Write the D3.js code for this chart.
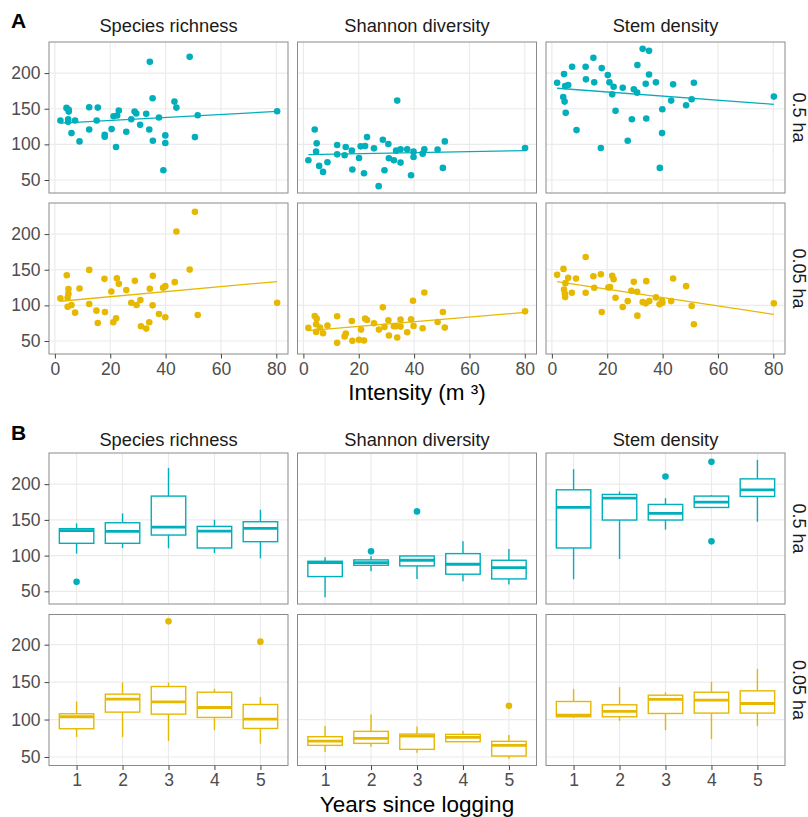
<!DOCTYPE html>
<html>
<head>
<meta charset="utf-8">
<script src="https://cdn.jsdelivr.net/npm/d3@7"></script>
<style>
  body { margin: 0; background: #fff; }
  svg { font-family: "Liberation Sans", Arial, sans-serif; }
</style>
</head>
<body>
<svg id="chart" width="808" height="817"></svg>
<script>
const metrics = ["Species richness", "Shannon diversity", "Stem density"];
const plotSizes = ["0.5 ha", "0.05 ha"];
const years = [1, 2, 3, 4, 5];
const intensityTicks = [0, 20, 40, 60, 80];
const valueTicks = [50, 100, 150, 200];

// [intensity, value]
const richnessLarge = [[2.0,133.5],[4.2,151.2],[5.0,148.4],[5.0,146],[4.8,135.3],[4.8,131.6],[6.0,115.8],[7.3,133.5],[8.9,104.2],[12.4,152.1],[12.4,120.9],[15.1,133.5],[15.5,151.6],[18.0,113.5],[18.0,110.7],[20.5,121.4],[21.2,139.5],[22.1,96.3],[22.5,140.5],[23.1,147.4],[25.8,117.7],[27.6,135.3],[28.8,146],[29.4,143.3],[30.8,127.4],[33.0,142.8],[34.1,120.9],[34.3,215.8],[35.3,164.7],[35.4,105.1],[37.6,137.7],[39.2,63.7],[39.9,112.6],[39.9,101.9],[43.2,160],[43.9,151.6],[48.7,222.8],[50.6,110.2],[51.6,140.9],[80.3,146.5]];
const shannonLarge = [[1.8,77.7],[4.1,120.9],[4.8,101.4],[4.6,89.8],[5.7,69.8],[7.1,61.4],[8.7,74.9],[12.2,99.1],[12.2,86],[14.9,84.7],[15.3,96.3],[17.5,91.2],[17.7,64.7],[20.1,80.9],[20.7,97.2],[22.3,97.7],[21.9,59.5],[23.0,110.2],[25.5,94.4],[27.2,41.4],[28.7,106.5],[29.3,63.7],[30.7,100.5],[30.9,80.5],[32.7,77.7],[33.5,91.2],[33.9,161.4],[35.1,93],[35.1,74.4],[37.5,93],[38.9,56.7],[39.8,89.8],[39.8,82.3],[43.1,87],[43.7,93],[48.5,92.6],[50.4,67],[51.1,104.2],[80.1,94.9]];
const stemLarge = [[1.9,186.5],[4.4,198.6],[4.8,181.9],[5.9,183.3],[4.1,166.5],[4.6,160],[5.0,144.2],[7.3,208.8],[8.9,120],[12.2,208.8],[12.3,191.2],[15.0,221.4],[15.3,187],[17.7,94.9],[18.0,207],[20.2,197.2],[20.8,187],[22.3,180.9],[21.8,170.2],[23.0,147],[25.6,179.5],[27.4,105.1],[28.9,135.3],[29.6,177.2],[30.8,172.6],[30.9,211.2],[32.8,234],[33.9,185.1],[34.1,136.3],[35.1,231.2],[35.1,198.1],[37.6,187],[39.0,67],[39.8,115.8],[39.9,149.3],[43.1,161.4],[43.8,184.2],[48.5,154.9],[50.5,163.3],[51.3,186.5],[80.2,167]];
const richnessSmall = [[2.0,109.8],[4.3,142.3],[4.9,122.8],[4.9,116.3],[4.6,110.7],[4.6,98.1],[6.0,100.5],[7.3,89.8],[8.9,123.7],[12.4,149.8],[12.4,101.9],[15.0,92.6],[15.5,75.3],[17.9,137.2],[18.1,90.7],[20.4,119.5],[21.1,76.3],[22.1,81.9],[22.4,138.1],[23.1,130.2],[25.8,121.4],[27.6,103.7],[28.9,134.4],[29.5,100.5],[30.9,107.4],[31.1,70.7],[33.0,67.4],[34.1,76.3],[34.3,123.3],[35.3,100],[35.4,141.4],[37.6,87.9],[39.1,124.7],[39.9,127],[39.9,83.3],[43.3,132.6],[43.9,203.7],[48.7,150.2],[50.6,231.2],[51.6,86.5],[80.3,103.7]];
const shannonSmall = [[1.8,68.4],[4.1,85.1],[4.8,81.4],[4.6,73.5],[4.6,62.8],[6.0,68.8],[7.1,60.9],[8.7,71.6],[12.2,84.7],[12.2,47.4],[14.9,56.3],[15.3,60.5],[17.5,78.1],[17.7,50.2],[20.1,51.6],[20.8,66],[22.3,81.4],[23.0,79.5],[21.9,50.7],[25.5,74.9],[27.3,66],[28.7,97.2],[29.3,69.8],[30.7,79.1],[30.9,57.7],[32.7,70.7],[33.5,70.7],[33.9,54.9],[35.1,80],[35.1,70.2],[37.5,62.3],[38.9,80.5],[39.6,106.5],[39.8,71.2],[43.7,118.1],[43.1,67.9],[48.5,76.7],[50.4,90.7],[51.1,68.8],[80.1,91.6]];
const stemSmall = [[1.9,142.8],[4.2,151.2],[4.4,122.3],[4.9,131.2],[4.7,116.3],[4.8,111.6],[5.9,138.6],[7.2,117.7],[8.7,137.7],[12.2,167.9],[12.2,117.7],[15.0,140.9],[15.3,124.7],[17.7,143.7],[18.0,90.7],[20.4,125.1],[21.0,125.6],[21.8,141.4],[22.3,136.7],[23.0,110.7],[25.6,97.7],[27.4,106],[28.7,120.5],[29.6,133],[30.8,119.1],[30.9,85.6],[32.8,104.7],[33.9,102.8],[34.1,134],[35.2,106],[37.6,111.2],[38.9,101.4],[39.8,106.5],[39.9,103.7],[43.1,106],[43.8,137.7],[48.5,127],[50.5,99.1],[51.3,73.5],[80.2,102.8]];

// per year: [lower whisker, q1, median, q3, upper whisker, outliers]
const boxRichnessLarge = [[102.8,117.2,134.9,137.7,145.1,[63.3]],[110.7,117.2,134.0,146.0,159.1,[]],[110.2,128.8,140.0,183.3,222.8,[]],[103.7,110.7,134.4,140.9,150.2,[]],[96.3,119.5,138.1,147.4,164.2,[]]];
const boxShannonLarge = [[41.9,70.7,90.2,92.1,97.7,[]],[78.1,86.5,90.2,94.0,99.1,[106.0]],[67.4,85.6,93.5,99.5,100.5,[161.9]],[64.2,74.0,87.9,102.8,120.0,[]],[59.5,67.4,83.3,93.5,109.3,[]]];
const boxStemLarge = [[67.0,110.7,167.4,192.1,220.9,[]],[95.3,149.8,180.5,185.6,189.8,[]],[136.3,149.8,159.1,171.6,180.5,[210.7]],[167.4,167.4,174.9,183.3,184.7,[231.2,120.0]],[147.4,182.8,192.1,207.4,234.0,[]]];
const boxRichnessSmall = [[76.6,87.7,103.7,107.7,124.1,[]],[76.6,109.9,127.2,133.9,149.4,[]],[71.3,107.2,123.7,144.1,149.4,[231.1]],[85.9,102.8,116.1,136.5,141.0,[]],[67.7,88.1,100.6,120.1,129.9,[204.0]]];
const boxShannonSmall = [[56.6,65.5,71.3,77.1,91.3,[]],[63.7,68.2,74.8,84.2,106.8,[]],[55.7,60.2,77.9,80.6,90.8,[]],[70.4,70.4,76.2,80.2,84.6,[]],[47.8,51.3,65.5,70.9,79.3,[118.3]]];
const boxStemSmall = [[102.4,103.7,105.9,124.1,141.0,[]],[98.4,103.7,110.8,119.7,143.2,[]],[85.9,108.1,126.8,132.5,136.5,[]],[74.0,108.6,125.9,136.5,150.3,[]],[91.3,108.6,121.4,138.3,167.6,[]]];

const rowColors = ["#00AFBB", "#E7B800"];
const scatterRows = [[richnessLarge, shannonLarge, stemLarge], [richnessSmall, shannonSmall, stemSmall]];
const boxRows = [[boxRichnessLarge, boxShannonLarge, boxStemLarge], [boxRichnessSmall, boxShannonSmall, boxStemSmall]];

const svg = d3.select("#chart");
const colX = [49, 297.5, 546];
const panelW = 239;
const panelH = 151;
const rowA = [42, 203];
const rowB = [453, 614.5];
const gridColor = "#ebebeb";

function expand(ext, f = 0.05) {
    const pad = (ext[1] - ext[0]) * f;
    return [ext[0] - pad, ext[1] + pad];
}

function drawGrid(g, xs, ys, xVals, x0, y0) {
    g.selectAll(".gx").data(xVals).join("line")
        .attr("x1", d => xs(d)).attr("x2", d => xs(d))
        .attr("y1", y0).attr("y2", y0 + panelH)
        .attr("stroke", gridColor).attr("stroke-width", 1.2);
    g.selectAll(".gy").data(valueTicks).join("line")
        .attr("x1", x0).attr("x2", x0 + panelW)
        .attr("y1", d => ys(d)).attr("y2", d => ys(d))
        .attr("stroke", gridColor).attr("stroke-width", 1.2);
}

function drawBorder(g, x0, y0) {
    g.append("rect").attr("x", x0).attr("y", y0)
        .attr("width", panelW).attr("height", panelH)
        .attr("fill", "none").attr("stroke", "#8a8a8a").attr("stroke-width", 1);
}

function styleAxis(a) {
    a.attr("font-size", 17.5).attr("font-family", null);
    a.select(".domain").remove();
    a.selectAll("line").attr("stroke", "#444");
    a.selectAll("text").attr("fill", "#4d4d4d");
}

function linFit(pts) {
    const mx = d3.mean(pts, d => d[0]), my = d3.mean(pts, d => d[1]);
    const b = d3.sum(pts, d => (d[0] - mx) * (d[1] - my)) / d3.sum(pts, d => (d[0] - mx) ** 2);
    return x => my + b * (x - mx);
}

// ---------- A: scatter ----------
const allA = scatterRows.flat(2);
const xDomA = expand(d3.extent(allA, d => d[0]));
const yDomA = expand(d3.extent(allA, d => d[1]));

scatterRows.forEach((row, r) => {
    const y0 = rowA[r];
    const ys = d3.scaleLinear().domain(yDomA).range([y0 + panelH, y0]);
    row.forEach((pts, c) => {
        const x0 = colX[c];
        const xs = d3.scaleLinear().domain(xDomA).range([x0, x0 + panelW]);
        const g = svg.append("g");
        drawGrid(g, xs, ys, intensityTicks, x0, y0);
        const fit = linFit(pts);
        const xe = d3.extent(pts, d => d[0]);
        g.append("line")
            .attr("x1", xs(xe[0])).attr("y1", ys(fit(xe[0])))
            .attr("x2", xs(xe[1])).attr("y2", ys(fit(xe[1])))
            .attr("stroke", rowColors[r]).attr("stroke-width", 1.3);
        g.selectAll("circle").data(pts).join("circle")
            .attr("cx", d => xs(d[0])).attr("cy", d => ys(d[1]))
            .attr("r", 3.3).attr("fill", rowColors[r]);
        drawBorder(g, x0, y0);
        if (c === 0) {
            svg.append("g").attr("transform", `translate(${x0},0)`)
                .call(d3.axisLeft(ys).tickValues(valueTicks).tickSize(4.5).tickPadding(4))
                .call(styleAxis);
        }
        if (r === 1) {
            svg.append("g").attr("transform", `translate(0,${y0 + panelH})`)
                .call(d3.axisBottom(xs).tickValues(intensityTicks).tickSize(4.5).tickPadding(4))
                .call(styleAxis);
        }
    });
});

// ---------- B: boxplots ----------
boxRows.forEach((row, r) => {
    const y0 = rowB[r];
    const vals = row.flat(1).flatMap(s => [s[0], s[4], ...s[5]]);
    const ys = d3.scaleLinear().domain(expand(d3.extent(vals))).range([y0 + panelH, y0]);
    row.forEach((stats, c) => {
        const x0 = colX[c];
        const xs = d3.scaleLinear().domain([0.4, 5.6]).range([x0, x0 + panelW]);
        const hw = xs(1.375) - xs(1);
        const col = rowColors[r];
        const g = svg.append("g");
        drawGrid(g, xs, ys, years, x0, y0);
        stats.forEach((s, i) => {
            const cx = xs(years[i]);
            g.append("line").attr("x1", cx).attr("x2", cx)
                .attr("y1", ys(s[3])).attr("y2", ys(s[4]))
                .attr("stroke", col).attr("stroke-width", 1.4);
            g.append("line").attr("x1", cx).attr("x2", cx)
                .attr("y1", ys(s[1])).attr("y2", ys(s[0]))
                .attr("stroke", col).attr("stroke-width", 1.4);
            g.append("rect").attr("x", cx - hw).attr("width", 2 * hw)
                .attr("y", ys(s[3])).attr("height", ys(s[1]) - ys(s[3]))
                .attr("fill", "#fff").attr("stroke", col).attr("stroke-width", 1.4);
            g.append("line").attr("x1", cx - hw).attr("x2", cx + hw)
                .attr("y1", ys(s[2])).attr("y2", ys(s[2]))
                .attr("stroke", col).attr("stroke-width", 2.8);
            g.selectAll(null).data(s[5]).join("circle")
                .attr("cx", cx).attr("cy", d => ys(d))
                .attr("r", 3.3).attr("fill", col);
        });
        drawBorder(g, x0, y0);
        if (c === 0) {
            svg.append("g").attr("transform", `translate(${x0},0)`)
                .call(d3.axisLeft(ys).tickValues(valueTicks).tickSize(4.5).tickPadding(4))
                .call(styleAxis);
        }
        if (r === 1) {
            svg.append("g").attr("transform", `translate(0,${y0 + panelH})`)
                .call(d3.axisBottom(xs).tickValues(years).tickFormat(d3.format("d")).tickSize(4.5).tickPadding(4))
                .call(styleAxis);
        }
    });
});

// ---------- strips & labels ----------
[[32, rowA], [446, rowB]].forEach(([ty, rows]) => {
    metrics.forEach((m, c) => {
        svg.append("text").attr("x", colX[c] + panelW / 2).attr("y", ty)
            .attr("text-anchor", "middle").attr("font-size", 18.3).attr("fill", "#1a1a1a").text(m);
    });
    plotSizes.forEach((p, r) => {
        const cy = rows[r] + panelH / 2;
        svg.append("text").attr("transform", `translate(799,${cy}) rotate(90)`)
            .attr("text-anchor", "middle").attr("dominant-baseline", "central")
            .attr("font-size", 18).attr("fill", "#1a1a1a").text(p);
    });
});

svg.append("text").attr("x", 11).attr("y", 28).attr("font-size", 21).attr("font-weight", "bold").text("A");
svg.append("text").attr("x", 11).attr("y", 440).attr("font-size", 21).attr("font-weight", "bold").text("B");
svg.append("text").attr("x", 417).attr("y", 400).attr("text-anchor", "middle").attr("font-size", 22.5).text("Intensity (m ³)");
svg.append("text").attr("x", 417).attr("y", 812).attr("text-anchor", "middle").attr("font-size", 22.5).text("Years since logging");
</script>
</body>
</html>
